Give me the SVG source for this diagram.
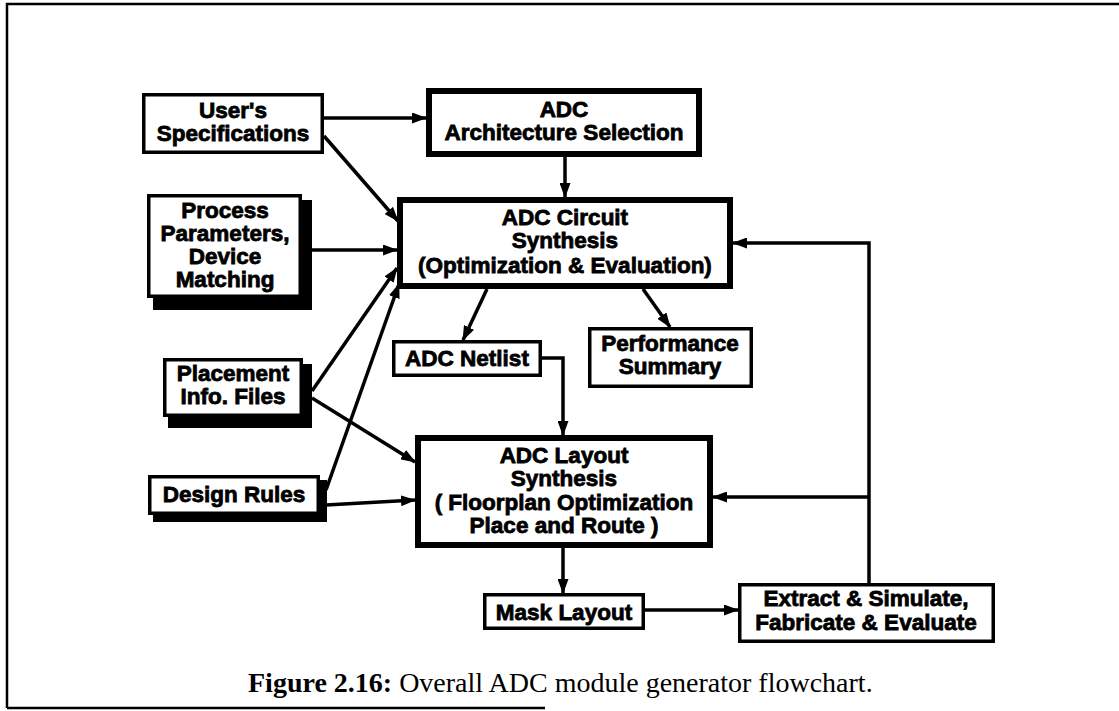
<svg xmlns="http://www.w3.org/2000/svg" width="1119" height="711" viewBox="0 0 1119 711">
<defs>
<marker id="ah" markerUnits="userSpaceOnUse" markerWidth="15" markerHeight="11" refX="14" refY="5.5" orient="auto">
<path d="M0,0 L15,5.5 L0,11 Z" fill="#000"/>
</marker>
<style>
.t{font-family:"Liberation Sans",Arial,Helvetica,sans-serif;font-weight:bold;font-size:22.5px;text-anchor:middle;fill:#000;stroke:#000;stroke-width:0.8px}
.b{fill:#fff;stroke:#000;stroke-width:3.5px}
.B{fill:#fff;stroke:#000;stroke-width:6px}
.sh{fill:#000}
.c{fill:none;stroke:#000;stroke-width:3.5px;marker-end:url(#ah)}
.cap{font-family:"Liberation Serif","Times New Roman",serif;font-size:28px;fill:#000}
</style>
</defs>
<rect width="1119" height="711" fill="#fff"/>
<g id="frame" fill="none" stroke="#000" stroke-width="2.5">
<path d="M7,708 L7,4 L1119,4"/>
<path d="M7,708 L545,708"/>
</g>
<g id="connectors">
<path class="c" d="M324,118 L426,118"/>
<path class="c" d="M565,157 L565,197"/>
<path class="c" d="M324,136 L398,221"/>
<path class="c" d="M302,250 L397,250"/>
<path class="c" d="M312,391 L397,268"/>
<path class="c" d="M312,398 L415,462"/>
<path class="c" d="M326,490 L399,284"/>
<path class="c" d="M326,505 L415,500"/>
<path class="c" d="M487,289 L463,340"/>
<path class="c" d="M643,289 L670,327"/>
<path class="c" d="M542,358 L563,358 L563,435"/>
<path class="c" d="M563,548 L563,593"/>
<path class="c" d="M645,610 L738,610"/>
<path class="c" d="M869,583 L869,243 L733,243"/>
<path class="c" d="M869,497 L713,497"/>
</g>
<g id="spec">
<rect class="b" x="143.75" y="94.75" width="178.5" height="57.5"/>
<text class="t" x="233" y="118">User's</text>
<text class="t" x="233" y="141">Specifications</text>
</g>
<g id="arch">
<rect class="B" x="429" y="91" width="270" height="63"/>
<text class="t" x="564" y="117">ADC</text>
<text class="t" x="564" y="140">Architecture Selection</text>
</g>
<g id="circuit">
<rect class="B" x="400" y="200" width="330" height="86"/>
<text class="t" x="565" y="225">ADC Circuit</text>
<text class="t" x="565" y="248">Synthesis</text>
<text class="t" x="565" y="273">(Optimization &amp; Evaluation)</text>
</g>
<g id="process">
<rect class="sh" x="153" y="200" width="159" height="110"/>
<rect class="b" x="148.75" y="195.75" width="151.5" height="100.5"/>
<text class="t" x="225" y="218">Process</text>
<text class="t" x="225" y="241">Parameters,</text>
<text class="t" x="225" y="264">Device</text>
<text class="t" x="225" y="287">Matching</text>
</g>
<g id="placement">
<rect class="sh" x="168" y="364" width="144" height="64"/>
<rect class="b" x="164.75" y="359.75" width="136.5" height="55.5"/>
<text class="t" x="233" y="381">Placement</text>
<text class="t" x="233" y="404">Info. Files</text>
</g>
<g id="design">
<rect class="sh" x="153" y="480" width="174" height="42"/>
<rect class="b" x="149.75" y="476.75" width="168.5" height="36.5"/>
<text class="t" x="234" y="502">Design Rules</text>
</g>
<g id="netlist">
<rect class="b" x="393.75" y="341.75" width="146.5" height="33.5"/>
<text class="t" x="467" y="366">ADC Netlist</text>
</g>
<g id="perf">
<rect class="b" x="589.75" y="328.75" width="161.5" height="57.5"/>
<text class="t" x="670" y="351">Performance</text>
<text class="t" x="670" y="374">Summary</text>
</g>
<g id="layout">
<rect class="B" x="418" y="438" width="292" height="107"/>
<text class="t" x="564" y="463">ADC Layout</text>
<text class="t" x="564" y="486">Synthesis</text>
<text class="t" x="564" y="510">( Floorplan Optimization</text>
<text class="t" x="564" y="533">Place and Route )</text>
</g>
<g id="mask">
<rect class="b" x="484.75" y="594.75" width="158.5" height="33.5"/>
<text class="t" x="564" y="620">Mask Layout</text>
</g>
<g id="extract">
<rect class="b" x="739.75" y="584.75" width="253.5" height="56.5"/>
<text class="t" x="866" y="606">Extract &amp; Simulate,</text>
<text class="t" x="866" y="630">Fabricate &amp; Evaluate</text>
</g>
<g id="caption">
<text class="cap" x="248" y="692"><tspan font-weight="bold">Figure 2.16:</tspan> Overall ADC module generator flowchart.</text>
</g>
</svg>
